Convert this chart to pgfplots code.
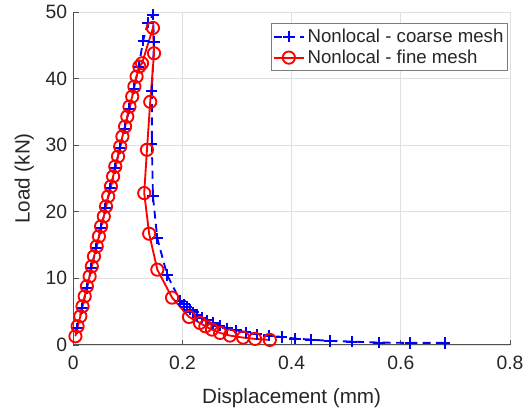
\documentclass[border=0pt]{standalone}
\usepackage{pgfplots}
\pgfplotsset{compat=1.18}
\usepackage{fontspec}
\setmainfont{Liberation Sans}
\definecolor{axgray}{RGB}{38,38,38}
\begin{document}
\begin{tikzpicture}
\begin{axis}[
  scale only axis,
  width=328pt, height=250pt,
  xmin=0, xmax=0.8, ymin=0, ymax=50,
  xtick={0,0.2,0.4,0.6,0.8},
  ytick={0,10,20,30,40,50},
  xticklabels={0,0.2,0.4,0.6,0.8},
  axis x line*=bottom, axis y line*=left,
  axis line style={axgray!80, line width=0.8pt, -},
  tick style={axgray!80, line width=0.6pt},
  tick align=inside,
  major tick length=4pt,
  grid=major,
  grid style={black!12, line width=0.6pt},
  tick label style={font=\fontsize{14.5}{16}\selectfont, text=axgray},
  xticklabel style={yshift=-5pt},
  yticklabel style={xshift=-1pt},
  /pgf/number format/assume math mode=true,
  xlabel={Displacement (mm)}, ylabel={Load (kN)},
  label style={font=\fontsize{15.5}{17}\selectfont, text=axgray},
  xlabel style={at={(axis description cs:0.5,-0.16)}, anchor=center},
  ylabel style={at={(axis description cs:-0.112,0.5)}, anchor=center},
  legend style={at={(0.995,0.966)}, anchor=north east, draw=axgray!60, line width=0.6pt,
    font=\fontsize{14}{15}\selectfont, text=axgray, inner xsep=1pt, inner ysep=2pt, row sep=0pt, cells={anchor=west}},
  legend cell align=left,
  legend image code/.code={\draw[mark repeat=2,mark phase=2,#1] plot coordinates {(0cm,0cm) (0.4cm,0cm) (0.8cm,0cm)};},
  clip=false,
]
\addplot[blue, line width=1.4pt, dash pattern=on 6pt off 4pt, mark=+, mark size=4.2pt, mark options={solid, line width=1.5pt}]
coordinates {
(0.007,2.5)(0.016,5.5)(0.025,8.5)(0.033,11.5)(0.042,14.5)(0.051,17.5)(0.059,20.5)(0.068,23.5)(0.077,26.5)(0.085,29.5)(0.094,32.5)(0.103,35.5)(0.111,38.5)(0.120,41.8)
(0.128,45.7)(0.137,48.4)(0.146,49.6)
(0.148,45.5)(0.144,38.2)(0.144,30.2)(0.146,22.3)(0.154,16.0)(0.172,10.5)(0.196,6.6)(0.203,6.1)(0.208,5.7)(0.214,5.3)(0.220,4.9)(0.227,4.5)(0.235,4.1)(0.245,3.7)(0.256,3.3)(0.268,2.9)(0.282,2.5)(0.298,2.2)(0.316,1.9)(0.336,1.6)(0.358,1.4)(0.382,1.2)(0.406,0.95)(0.435,0.8)(0.470,0.6)(0.510,0.5)(0.560,0.35)(0.617,0.3)(0.680,0.3)
};
\addlegendentry{Nonlocal - coarse mesh}
\addplot[red, line width=1.4pt, mark=o, mark size=4.6pt, mark options={solid, line width=1.4pt}]
coordinates {
(0.004,1.3)(0.008,2.8)(0.013,4.3)(0.017,5.8)(0.021,7.3)(0.025,8.8)(0.030,10.3)(0.034,11.8)(0.038,13.3)(0.043,14.8)(0.047,16.3)(0.051,17.8)(0.056,19.3)(0.060,20.8)(0.064,22.3)(0.069,23.8)(0.073,25.3)(0.077,26.8)(0.082,28.3)(0.086,29.8)(0.090,31.3)(0.095,32.8)(0.099,34.3)(0.103,35.8)(0.108,37.3)(0.112,38.8)(0.116,40.3)(0.121,41.8)(0.126,42.3)
(0.146,47.6)(0.148,43.8)(0.141,36.5)(0.135,29.3)(0.130,22.8)(0.139,16.7)(0.154,11.3)(0.181,7.1)(0.212,4.2)(0.232,3.3)(0.242,2.8)(0.254,2.3)(0.269,1.8)(0.287,1.4)(0.311,1.1)(0.333,0.9)(0.360,0.75)
};
\addlegendentry{Nonlocal - fine mesh}
\end{axis}
\path ([xshift=-55pt,yshift=-50pt]current axis.south west) rectangle ([xshift=13.5pt,yshift=9pt]current axis.north east);
\end{tikzpicture}
\end{document}
